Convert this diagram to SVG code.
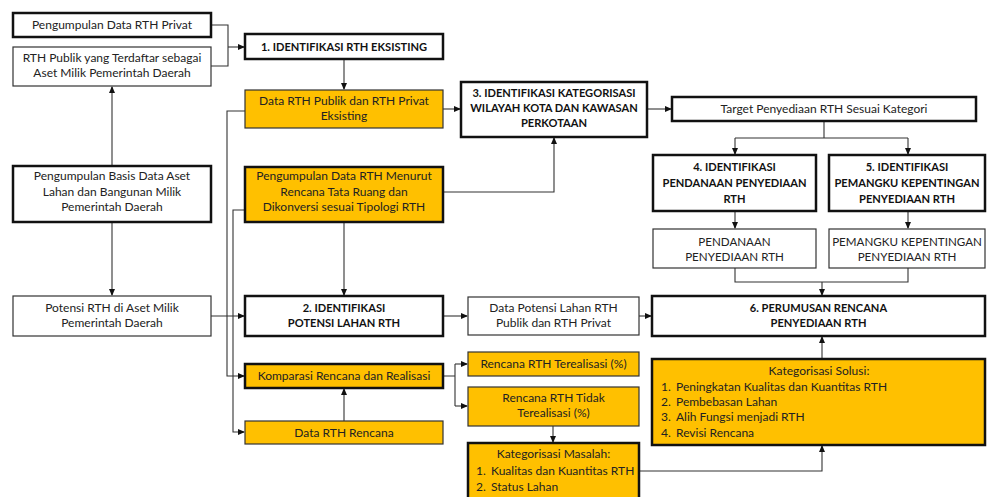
<svg xmlns="http://www.w3.org/2000/svg" width="987" height="497" viewBox="0 0 987 497">
<style>
text{font-family:Lato,"Liberation Sans",sans-serif;font-size:12px;fill:#222;text-anchor:middle}
.b{font-weight:bold;font-size:11.1px;fill:#111}
.l{text-anchor:start}
.n{font-size:11.6px}
.thick{stroke:#111;stroke-width:2.5}
.thin{stroke:#333;stroke-width:1.2}
.w{fill:#fff}
.y{fill:#FFC000}
.c path{fill:none;stroke:#333;stroke-width:1.1}
.a{marker-end:url(#ah)}
</style>
<defs>
<marker id="ah" markerUnits="userSpaceOnUse" markerWidth="7" markerHeight="6" refX="6" refY="3" orient="auto">
<path d="M0,0 L7,3 L0,6 Z" fill="#111"/>
</marker>
</defs>
<rect width="987" height="497" fill="#fff"/>

<g class="c" id="connectors">
<path d="M211,25 H228 V66 H211"/>
<path class="a" d="M228,47 H244"/>
<path class="a" d="M112,166 V87"/>
<path class="a" d="M112,222 V295"/>
<path class="a" d="M211,316 H244"/>
<path class="a" d="M344,59 V89"/>
<path class="a" d="M443,109 H460"/>
<path class="a" d="M245,111 H227 V376 H244"/>
<path class="a" d="M245,210 H233 V432 H244"/>
<path class="a" d="M344,222 V295"/>
<path class="a" d="M443,192 H554 V138"/>
<path class="a" d="M647,109 H671"/>
<path d="M824,121 V138 M735,138 H908"/>
<path class="a" d="M735,138 V154"/>
<path class="a" d="M908,138 V154"/>
<path class="a" d="M735,211 V228"/>
<path class="a" d="M908,211 V228"/>
<path d="M735,268 V282 H908 V268"/>
<path class="a" d="M822,282 V295"/>
<path class="a" d="M443,316 H467"/>
<path class="a" d="M639,316 H651"/>
<path d="M443,376 H455 M455,364 V406"/>
<path class="a" d="M455,364 H467"/>
<path class="a" d="M455,406 H467"/>
<path class="a" d="M344,421 V389"/>
<path class="a" d="M553,426 V442"/>
<path class="a" d="M639,471 H822 V446"/>
<path class="a" d="M822,359 V337"/>
</g>

<g id="n-privat"><rect class="w thick" x="13" y="13" width="198" height="24"/><text x="112" y="29">Pengumpulan Data RTH Privat</text></g>
<g id="n-publik-aset"><rect class="w thin" x="13" y="47" width="198" height="39"/><text x="112" y="62">RTH Publik yang Terdaftar sebagai</text><text x="112" y="77">Aset Milik Pemerintah Daerah</text></g>
<g id="n-basis"><rect class="w thick" x="13" y="166" width="198" height="56"/><text x="112" y="180">Pengumpulan Basis Data Aset</text><text x="112" y="195.5">Lahan dan Bangunan Milik</text><text x="112" y="211">Pemerintah Daerah</text></g>
<g id="n-potensi-aset"><rect class="w thin" x="13" y="296" width="198" height="40"/><text x="112" y="312">Potensi RTH di Aset Milik</text><text x="112" y="327">Pemerintah Daerah</text></g>

<g id="n-1"><rect class="w thick" x="245" y="34" width="198" height="25"/><text class="b" x="344" y="51">1. IDENTIFIKASI RTH EKSISTING</text></g>
<g id="n-data-eksisting"><rect class="y thin" x="245" y="90" width="198" height="38"/><text x="344" y="105">Data RTH Publik dan RTH Privat</text><text x="344" y="120">Eksisting</text></g>
<g id="n-rencana-tata"><rect class="y thick" x="245" y="167" width="198" height="55"/><text x="344" y="180">Pengumpulan Data RTH Menurut</text><text x="344" y="195.5">Rencana Tata Ruang dan</text><text x="344" y="211">Dikonversi sesuai Tipologi RTH</text></g>
<g id="n-2"><rect class="w thick" x="245" y="296" width="198" height="40"/><text class="b" x="344" y="312">2. IDENTIFIKASI</text><text class="b" x="344" y="327">POTENSI LAHAN RTH</text></g>
<g id="n-komparasi"><rect class="y thick" x="245" y="364" width="198" height="24"/><text x="344" y="380">Komparasi Rencana dan Realisasi</text></g>
<g id="n-data-rencana"><rect class="y thin" x="245" y="421" width="198" height="23"/><text x="344" y="437">Data RTH Rencana</text></g>

<g id="n-3"><rect class="w thick" x="461" y="82" width="186" height="55"/><text class="b" x="554" y="97">3. IDENTIFIKASI KATEGORISASI</text><text class="b" x="554" y="112">WILAYAH KOTA DAN KAWASAN</text><text class="b" x="554" y="127">PERKOTAAN</text></g>
<g id="n-data-potensi"><rect class="w thin" x="468" y="297" width="171" height="38"/><text x="553.5" y="312">Data Potensi Lahan RTH</text><text x="553.5" y="327">Publik dan RTH Privat</text></g>
<g id="n-terealisasi"><rect class="y thin" x="468" y="352" width="171" height="24"/><text x="553.5" y="368">Rencana RTH Terealisasi (%)</text></g>
<g id="n-tidak"><rect class="y thin" x="468" y="387" width="171" height="39"/><text x="553.5" y="402">Rencana RTH Tidak</text><text x="553.5" y="417">Terealisasi (%)</text></g>
<g id="n-masalah"><rect class="y thick" x="468" y="443" width="171" height="70"/><text x="553.5" y="458">Kategorisasi Masalah:</text><text class="l" x="476" y="475">1.</text><text class="l" x="491" y="475">Kualitas dan Kuantitas RTH</text><text class="l" x="476" y="491">2.</text><text class="l" x="491" y="491">Status Lahan</text></g>

<g id="n-target"><rect class="w thick" x="672" y="97" width="304" height="24"/><text x="824" y="113">Target Penyediaan RTH Sesuai Kategori</text></g>
<g id="n-4"><rect class="w thick" x="653" y="155" width="163" height="56"/><text class="b" x="734.5" y="171">4. IDENTIFIKASI</text><text class="b" x="734.5" y="187">PENDANAAN PENYEDIAAN</text><text class="b" x="734.5" y="203">RTH</text></g>
<g id="n-5"><rect class="w thick" x="829" y="155" width="156" height="56"/><text class="b" x="907" y="171">5. IDENTIFIKASI</text><text class="b" x="907" y="187">PEMANGKU KEPENTINGAN</text><text class="b" x="907" y="203">PENYEDIAAN RTH</text></g>
<g id="n-pendanaan"><rect class="w thin" x="653" y="229" width="163" height="39"/><text class="n" x="734.5" y="246">PENDANAAN</text><text class="n" x="734.5" y="261">PENYEDIAAN  RTH</text></g>
<g id="n-pemangku"><rect class="w thin" x="829" y="229" width="156" height="39"/><text class="n" x="907" y="246">PEMANGKU KEPENTINGAN</text><text class="n" x="907" y="261">PENYEDIAAN  RTH</text></g>
<g id="n-6"><rect class="w thick" x="652" y="296" width="333" height="40"/><text class="b" x="818.5" y="312">6. PERUMUSAN RENCANA</text><text class="b" x="818.5" y="327">PENYEDIAAN RTH</text></g>
<g id="n-solusi"><rect class="y thick" x="652" y="359" width="333" height="86"/><text x="819" y="375">Kategorisasi Solusi:</text><text class="l" x="661" y="391">1.</text><text class="l" x="676" y="391">Peningkatan Kualitas dan Kuantitas RTH</text><text class="l" x="661" y="406">2.</text><text class="l" x="676" y="406">Pembebasan Lahan</text><text class="l" x="661" y="421">3.</text><text class="l" x="676" y="421">Alih Fungsi menjadi RTH</text><text class="l" x="661" y="437">4.</text><text class="l" x="676" y="437">Revisi Rencana</text></g>
</svg>
